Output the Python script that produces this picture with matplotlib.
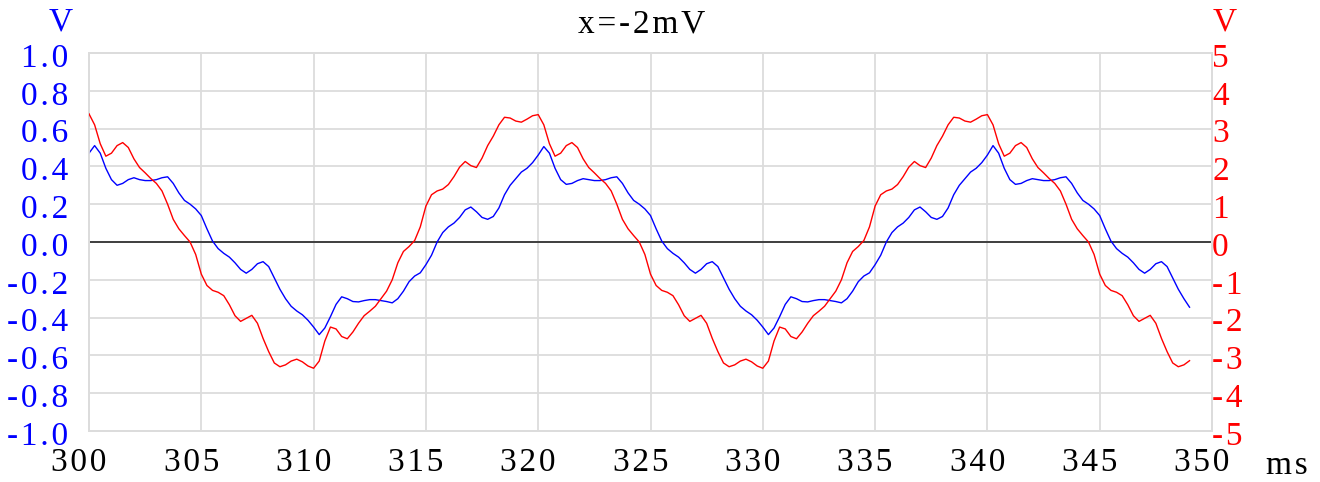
import numpy as np
import matplotlib
matplotlib.use("Agg")
import matplotlib.pyplot as plt
from matplotlib.transforms import ScaledTranslation

plt.rcParams['font.family'] = ['Liberation Serif', 'DejaVu Serif']

# ---------------- data ----------------
t_ms = np.arange(300.0, 349.01, 0.25)

blue_v = [
    0.47, 0.51, 0.47, 0.39, 0.33, 0.30, 0.31, 0.33, 0.34, 0.33, 0.325, 0.325, 0.33, 0.34, 0.345, 0.31, 0.26, 0.22, 0.20, 0.175,
    0.14, 0.07, 0.005, -0.035, -0.06, -0.08, -0.11, -0.145, -0.165, -0.145, -0.115, -0.104, -0.13, -0.19, -0.25, -0.30, -0.34, -0.365, -0.385, -0.414,
    -0.45, -0.49, -0.455, -0.395, -0.33, -0.29, -0.30, -0.315, -0.317, -0.31, -0.305, -0.305, -0.31, -0.315, -0.322, -0.30, -0.26, -0.21, -0.18, -0.163,
    -0.12, -0.07, 0.0, 0.05, 0.08, 0.10, 0.13, 0.17, 0.185, 0.16, 0.13, 0.12, 0.135, 0.18, 0.25, 0.30, 0.335, 0.37, 0.39, 0.42,
    0.46, 0.505, 0.47, 0.39, 0.33, 0.305, 0.31, 0.325, 0.335, 0.33, 0.325, 0.325, 0.33, 0.34, 0.345, 0.31, 0.26, 0.22, 0.20, 0.175,
    0.14, 0.07, 0.005, -0.035, -0.06, -0.08, -0.11, -0.145, -0.165, -0.145, -0.115, -0.104, -0.13, -0.19, -0.25, -0.30, -0.34, -0.365, -0.385, -0.414,
    -0.45, -0.49, -0.455, -0.395, -0.33, -0.29, -0.30, -0.315, -0.317, -0.31, -0.305, -0.305, -0.31, -0.315, -0.322, -0.30, -0.26, -0.21, -0.18, -0.163,
    -0.12, -0.07, 0.0, 0.05, 0.08, 0.10, 0.13, 0.17, 0.185, 0.16, 0.13, 0.12, 0.135, 0.18, 0.25, 0.30, 0.335, 0.37, 0.39, 0.42,
    0.46, 0.51, 0.47, 0.39, 0.33, 0.305, 0.31, 0.325, 0.335, 0.33, 0.325, 0.325, 0.33, 0.34, 0.345, 0.31, 0.26, 0.22, 0.20, 0.175,
    0.14, 0.07, 0.005, -0.035, -0.06, -0.08, -0.11, -0.145, -0.165, -0.145, -0.115, -0.104, -0.13, -0.19, -0.25, -0.30, -0.345,
]

red_v = [
    3.39, 3.10, 2.60, 2.27, 2.35, 2.55, 2.63, 2.50, 2.20, 1.97, 1.83, 1.68, 1.55, 1.35, 1.00, 0.60, 0.35, 0.17, 0.0, -0.33,
    -0.85, -1.15, -1.28, -1.33, -1.42, -1.66, -1.95, -2.10, -2.02, -1.94, -2.15, -2.55, -2.90, -3.20, -3.30, -3.25, -3.15, -3.10, -3.17, -3.28,
    -3.34, -3.15, -2.62, -2.25, -2.30, -2.50, -2.56, -2.38, -2.15, -1.95, -1.83, -1.70, -1.50, -1.30, -1.00, -0.55, -0.25, -0.12, 0.04, 0.40,
    0.95, 1.25, 1.35, 1.40, 1.52, 1.73, 1.98, 2.13, 2.02, 1.97, 2.22, 2.55, 2.80, 3.10, 3.30, 3.28, 3.20, 3.17, 3.25, 3.34,
    3.37, 3.10, 2.60, 2.27, 2.35, 2.55, 2.63, 2.50, 2.20, 1.97, 1.83, 1.68, 1.55, 1.35, 1.00, 0.60, 0.35, 0.17, 0.0, -0.33,
    -0.85, -1.15, -1.28, -1.33, -1.42, -1.66, -1.95, -2.10, -2.02, -1.94, -2.15, -2.55, -2.90, -3.20, -3.30, -3.25, -3.15, -3.10, -3.17, -3.28,
    -3.34, -3.15, -2.62, -2.25, -2.30, -2.50, -2.56, -2.38, -2.15, -1.95, -1.83, -1.70, -1.50, -1.30, -1.00, -0.55, -0.25, -0.12, 0.04, 0.40,
    0.95, 1.25, 1.35, 1.40, 1.52, 1.73, 1.98, 2.13, 2.02, 1.97, 2.22, 2.55, 2.80, 3.10, 3.30, 3.28, 3.20, 3.17, 3.25, 3.34,
    3.37, 3.10, 2.60, 2.27, 2.35, 2.55, 2.63, 2.50, 2.20, 1.97, 1.83, 1.68, 1.55, 1.35, 1.00, 0.60, 0.35, 0.17, 0.0, -0.33,
    -0.85, -1.15, -1.28, -1.33, -1.42, -1.66, -1.95, -2.10, -2.02, -1.94, -2.15, -2.55, -2.90, -3.20, -3.30, -3.25, -3.14,
]

x_ticks = [300, 305, 310, 315, 320, 325, 330, 335, 340, 345, 350]
x_tick_labels = ['300', '305', '310', '315', '320', '325', '330', '335', '340', '345', '350']
left_ticks = [-1.0, -0.8, -0.6, -0.4, -0.2, 0.0, 0.2, 0.4, 0.6, 0.8, 1.0]
left_tick_labels = ['-1.0', '-0.8', '-0.6', '-0.4', '-0.2', '0.0', '0.2', '0.4', '0.6', '0.8', '1.0']
right_ticks = [-5, -4, -3, -2, -1, 0, 1, 2, 3, 4, 5]
right_tick_labels = ['-5', '-4', '-3', '-2', '-1', '0', '1', '2', '3', '4', '5']

title_text = 'x=-2mV'
x_unit = 'ms'
left_unit = 'V'
right_unit = 'V'

# ---------------- drawing ----------------
HS = '\u200a'


def sp(s):
    return HS.join(s)


W, H = 1320, 482
fig = plt.figure(figsize=(W / 100, H / 100), dpi=100)
L, R, T, B = 89, 1212, 53, 431
ax = fig.add_axes([L / W, 1 - B / H, (R - L) / W, (B - T) / H])
ax2 = ax.twinx()

BLUE = '#0000ff'
RED = '#ff0000'
GRID = '#dcdcdc'
FS = 24

ax.set_xlim(300, 350)
ax.set_ylim(-1.0, 1.0)
ax2.set_ylim(-5, 5)

ax.set_xticks(x_ticks)
ax.set_xticklabels([sp(s) for s in x_tick_labels], fontsize=FS, color='black')
ax.set_yticks(left_ticks)
ax.set_yticklabels([sp(s) for s in left_tick_labels], fontsize=FS, color=BLUE)
ax2.set_yticks(right_ticks)
ax2.set_yticklabels([sp(s) for s in right_tick_labels], fontsize=FS, color=RED)

ax.tick_params(axis='both', length=0)
ax.tick_params(axis='y', pad=15)
ax.tick_params(axis='x', pad=12)
ax2.tick_params(axis='y', length=0, pad=0)

offx = ScaledTranslation(-10 / 100, 0, fig.dpi_scale_trans)
for lab in ax.get_xticklabels():
    lab.set_transform(lab.get_transform() + offx)
offy = ScaledTranslation(0, -2 / 100, fig.dpi_scale_trans)
for lab in ax.get_yticklabels():
    lab.set_transform(lab.get_transform() + offy)
for lab in ax2.get_yticklabels():
    lab.set_transform(lab.get_transform() + offy)

ax.grid(True, color=GRID, linewidth=1.3)
ax.set_axisbelow(True)
for a in (ax, ax2):
    for s in a.spines.values():
        s.set_color(GRID)
        s.set_linewidth(1.3)

ax.axhline(0, color='#333333', linewidth=1.3, zorder=2)

ax.plot(t_ms, blue_v, color=BLUE, linewidth=1.0, zorder=3)
ax2.plot(t_ms, red_v, color=RED, linewidth=1.0, zorder=3)

fig.text(642 / W, 1 - 24 / H, sp(title_text), fontsize=FS, color='black', ha='center', va='center')
fig.text(61 / W, 1 - 22 / H, left_unit, fontsize=FS, color=BLUE, ha='center', va='center')
fig.text(1225 / W, 1 - 22 / H, right_unit, fontsize=FS, color=RED, ha='center', va='center')
fig.text(1287 / W, 1 - 466 / H, sp(x_unit), fontsize=FS, color='black', ha='center', va='center')

fig.savefig('out.png', dpi=100)
